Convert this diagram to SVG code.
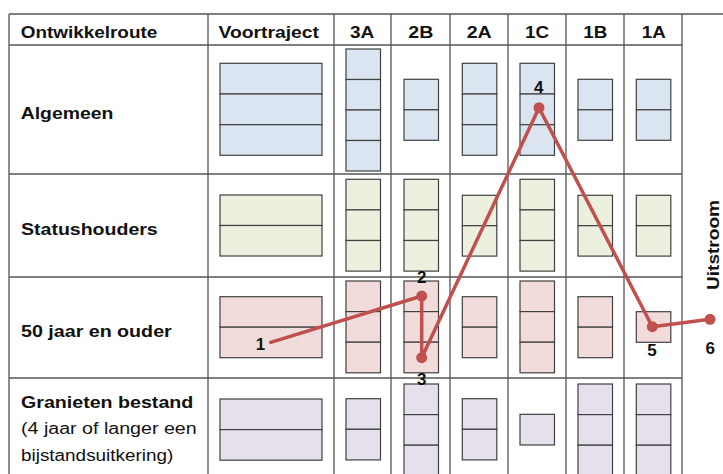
<svg xmlns="http://www.w3.org/2000/svg" width="723" height="474" viewBox="0 0 723 474">
<style>
.grid{stroke:#555;stroke-width:1.3;fill:none}
.c rect{stroke:#404040;stroke-width:1.2}
.b rect{fill:#dbe5f1}
.g rect{fill:#ebf1de}
.p rect{fill:#f2dcdb}
.v rect{fill:#e5e0ec}
.h{font-family:"Liberation Sans",Arial,sans-serif;font-weight:bold;font-size:16px;fill:#111}
.n{font-family:"Liberation Sans",Arial,sans-serif;font-weight:bold;font-size:17px;fill:#111;text-anchor:middle}
.r{font-family:"Liberation Sans",Arial,sans-serif;font-size:16px;fill:#111}
.route{stroke:#c0504d;stroke-width:3.5;fill:none;stroke-linecap:round;stroke-linejoin:round}
.dot{fill:#c0504d}
</style>
<rect width="723" height="474" fill="#fff"/>
<g id="table">
<path class="grid" d="M9,14H723M9,45H682M9,174H682M9,277H682M9,378H682M9,14V474M208,14V474M334,14V474M391,14V474M450,14V474M508,14V474M566,14V474M624,14V474M682,14V474"/>
<text class="h" x="20.7" y="38.3" textLength="136.6" lengthAdjust="spacingAndGlyphs">Ontwikkelroute</text>
<text class="h" x="218.5" y="38.3" textLength="100.5" lengthAdjust="spacingAndGlyphs">Voortraject</text>
<text class="h" x="350" y="38.3" textLength="24.3" lengthAdjust="spacingAndGlyphs">3A</text>
<text class="h" x="408.3" y="38.3" textLength="25" lengthAdjust="spacingAndGlyphs">2B</text>
<text class="h" x="466.7" y="38.3" textLength="25" lengthAdjust="spacingAndGlyphs">2A</text>
<text class="h" x="525" y="38.3" textLength="24" lengthAdjust="spacingAndGlyphs">1C</text>
<text class="h" x="583.3" y="38.3" textLength="24" lengthAdjust="spacingAndGlyphs">1B</text>
<text class="h" x="641.7" y="38.3" textLength="24" lengthAdjust="spacingAndGlyphs">1A</text>
<text class="h" x="20.7" y="119.3" textLength="92.6" lengthAdjust="spacingAndGlyphs">Algemeen</text>
<text class="h" x="21" y="235" textLength="136.7" lengthAdjust="spacingAndGlyphs">Statushouders</text>
<text class="h" x="21" y="336.7" textLength="150.7" lengthAdjust="spacingAndGlyphs">50 jaar en ouder</text>
<text class="h" x="21" y="408.3" textLength="172.3" lengthAdjust="spacingAndGlyphs">Granieten bestand</text>
<text class="r" x="21" y="434.4" textLength="175.7" lengthAdjust="spacingAndGlyphs">(4 jaar of langer een</text>
<text class="r" x="21" y="461" textLength="152.3" lengthAdjust="spacingAndGlyphs">bijstandsuitkering)</text>
<text class="h" x="718.7" y="245" font-size="19" text-anchor="middle" transform="rotate(-90 718.7 245)" textLength="90" lengthAdjust="spacingAndGlyphs">Uitstroom</text>
</g>
<!-- Row 1: Algemeen -->
<g id="alg-vt" class="c b"><rect x="220" y="63.3" width="102" height="30.7"/><rect x="220" y="94" width="102" height="30.7"/><rect x="220" y="124.7" width="102" height="30.6"/></g>
<g id="alg-3a" class="c b"><rect x="346" y="49" width="34.5" height="30.5"/><rect x="346" y="79.5" width="34.5" height="30.5"/><rect x="346" y="110" width="34.5" height="30.5"/><rect x="346" y="140.5" width="34.5" height="30.5"/></g>
<g id="alg-2b" class="c b"><rect x="404" y="79.3" width="34.5" height="30.5"/><rect x="404" y="109.8" width="34.5" height="30.5"/></g>
<g id="alg-2a" class="c b"><rect x="462.3" y="63.3" width="34.5" height="30.7"/><rect x="462.3" y="94" width="34.5" height="30.7"/><rect x="462.3" y="124.7" width="34.5" height="30.6"/></g>
<g id="alg-1c" class="c b"><rect x="520" y="63.3" width="34.5" height="30.7"/><rect x="520" y="94" width="34.5" height="30.7"/><rect x="520" y="124.7" width="34.5" height="30.6"/></g>
<g id="alg-1b" class="c b"><rect x="578" y="79.3" width="34.5" height="30.5"/><rect x="578" y="109.8" width="34.5" height="30.5"/></g>
<g id="alg-1a" class="c b"><rect x="636.3" y="79.3" width="34.5" height="30.5"/><rect x="636.3" y="109.8" width="34.5" height="30.5"/></g>
<!-- Row 2: Statushouders -->
<g id="sh-vt" class="c g"><rect x="220" y="195" width="102" height="30.5"/><rect x="220" y="225.5" width="102" height="30.5"/></g>
<g id="sh-3a" class="c g"><rect x="346" y="179.3" width="34.5" height="30.6"/><rect x="346" y="209.9" width="34.5" height="30.6"/><rect x="346" y="240.5" width="34.5" height="30.6"/></g>
<g id="sh-2b" class="c g"><rect x="404" y="179.3" width="34.5" height="30.6"/><rect x="404" y="209.9" width="34.5" height="30.6"/><rect x="404" y="240.5" width="34.5" height="30.6"/></g>
<g id="sh-2a" class="c g"><rect x="462.3" y="195.3" width="34.5" height="30.4"/><rect x="462.3" y="225.7" width="34.5" height="30.4"/></g>
<g id="sh-1c" class="c g"><rect x="520" y="179.3" width="34.5" height="30.6"/><rect x="520" y="209.9" width="34.5" height="30.6"/><rect x="520" y="240.5" width="34.5" height="30.6"/></g>
<g id="sh-1b" class="c g"><rect x="578" y="195.3" width="34.5" height="30.4"/><rect x="578" y="225.7" width="34.5" height="30.4"/></g>
<g id="sh-1a" class="c g"><rect x="636.3" y="195.3" width="34.5" height="30.4"/><rect x="636.3" y="225.7" width="34.5" height="30.4"/></g>
<!-- Row 3: 50 jaar en ouder -->
<g id="o50-vt" class="c p"><rect x="220" y="296.7" width="102" height="30.5"/><rect x="220" y="327.2" width="102" height="30.5"/></g>
<g id="o50-3a" class="c p"><rect x="346" y="281" width="34.5" height="30.6"/><rect x="346" y="311.6" width="34.5" height="30.6"/><rect x="346" y="342.2" width="34.5" height="30.6"/></g>
<g id="o50-2b" class="c p"><rect x="404" y="281" width="34.5" height="30.6"/><rect x="404" y="311.6" width="34.5" height="30.6"/><rect x="404" y="342.2" width="34.5" height="30.6"/></g>
<g id="o50-2a" class="c p"><rect x="462.3" y="296.7" width="34.5" height="30.5"/><rect x="462.3" y="327.2" width="34.5" height="30.5"/></g>
<g id="o50-1c" class="c p"><rect x="520" y="281" width="34.5" height="30.6"/><rect x="520" y="311.6" width="34.5" height="30.6"/><rect x="520" y="342.2" width="34.5" height="30.6"/></g>
<g id="o50-1b" class="c p"><rect x="578" y="296.7" width="34.5" height="30.5"/><rect x="578" y="327.2" width="34.5" height="30.5"/></g>
<g id="o50-1a" class="c p"><rect x="636.3" y="311.7" width="34.5" height="30.6"/></g>
<!-- Row 4: Granieten bestand -->
<g id="gb-vt" class="c v"><rect x="220" y="399" width="102" height="30.6"/><rect x="220" y="429.6" width="102" height="30.6"/></g>
<g id="gb-3a" class="c v"><rect x="346" y="398.7" width="34.5" height="30.6"/><rect x="346" y="429.3" width="34.5" height="30.6"/></g>
<g id="gb-2b" class="c v"><rect x="404" y="384" width="34.5" height="30.6"/><rect x="404" y="414.6" width="34.5" height="30.6"/><rect x="404" y="445.2" width="34.5" height="30.6"/></g>
<g id="gb-2a" class="c v"><rect x="462.3" y="398.7" width="34.5" height="30.6"/><rect x="462.3" y="429.3" width="34.5" height="30.6"/></g>
<g id="gb-1c" class="c v"><rect x="520" y="414.3" width="34.5" height="30.7"/></g>
<g id="gb-1b" class="c v"><rect x="578" y="384" width="34.5" height="30.6"/><rect x="578" y="414.6" width="34.5" height="30.6"/><rect x="578" y="445.2" width="34.5" height="30.6"/></g>
<g id="gb-1a" class="c v"><rect x="636.3" y="384" width="34.5" height="30.6"/><rect x="636.3" y="414.6" width="34.5" height="30.6"/><rect x="636.3" y="445.2" width="34.5" height="30.6"/></g>
<!-- Route connectors -->
<g id="connectors">
<polyline class="route" points="270.7,342.3 421.7,296 421.7,357.7 539,107.7 652.3,326.7 710,319.3"/>
<circle class="dot" cx="421.7" cy="296" r="5.5"/>
<circle class="dot" cx="421.7" cy="357.7" r="5.5"/>
<circle class="dot" cx="539" cy="107.7" r="5.5"/>
<circle class="dot" cx="652.3" cy="326.7" r="5.5"/>
<circle class="dot" cx="710" cy="319.3" r="5.5"/>
</g>
<g id="labels">
<text class="n" x="260.5" y="350">1</text>
<text class="n" x="421.7" y="282.7">2</text>
<text class="n" x="421.7" y="385">3</text>
<text class="n" x="538.8" y="93.3">4</text>
<text class="n" x="652" y="355.7">5</text>
<text class="n" x="710.3" y="354.3">6</text>
</g>
</svg>
